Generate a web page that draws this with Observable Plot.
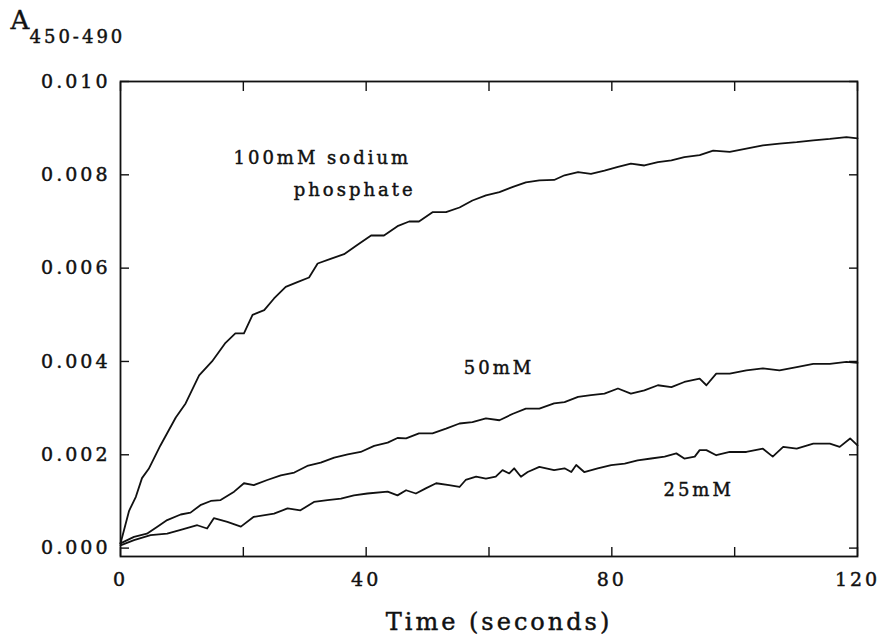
<!DOCTYPE html>
<html><head><meta charset="utf-8">
<script src="https://cdn.jsdelivr.net/npm/d3@7"></script>
<script src="https://cdn.jsdelivr.net/npm/@observablehq/plot@0.6"></script>
<style>
body{margin:0;background:#fff;}
#chart svg{display:block;}
#chart svg text{letter-spacing:3px;stroke:#111;stroke-width:0.45px;}
</style>
</head><body><div id="chart"></div>
<script>
// 100 mM sodium phosphate
const t100 = [0,1.4,2.5,3.5,4.6,6.5,9.0,10.6,12.8,14.9,17.1,18.7,20.1,21.5,23.4,25.0,26.9,28.8,30.7,32.1,34.2,36.4,38.6,40.8,42.9,45.1,47.0,48.6,50.8,53.0,55.2,57.3,59.5,61.7,63.9,66.0,68.2,70.6,72.3,74.5,76.6,78.8,81.0,83.1,85.3,87.5,89.7,91.8,94.3,96.5,99.2,101.9,104.6,107.3,110.1,112.8,115.5,118.2,120];
const a100 = [0.0001,0.0008,0.0011,0.0015,0.0017,0.0022,0.0028,0.0031,0.0037,0.0040,0.0044,0.0046,0.0046,0.0050,0.0051,0.00535,0.0056,0.0057,0.0058,0.0061,0.0062,0.0063,0.0065,0.0067,0.0067,0.0069,0.0070,0.0070,0.0072,0.0072,0.0073,0.00745,0.00756,0.00763,0.00774,0.00784,0.00788,0.00789,0.00799,0.00806,0.00802,0.00809,0.00817,0.00824,0.0082,0.00827,0.00831,0.00838,0.00842,0.00852,0.00849,0.00856,0.00863,0.00867,0.0087,0.00874,0.00877,0.00881,0.00878];
// 50 mM
const t50 = [0,2.2,4.3,6.0,7.6,9.8,11.4,13.0,14.7,16.3,18.5,20.1,21.7,23.9,26.1,28.3,30.4,32.6,34.8,37.0,39.1,41.3,43.5,45.1,46.5,48.6,50.8,53.0,55.2,57.3,59.5,61.7,63.9,66.0,68.2,70.6,72.3,74.5,76.6,78.8,81.0,83.1,85.3,87.5,89.7,91.8,94.3,95.4,97.0,99.2,101.9,104.6,107.3,110.1,112.8,115.5,118.2,120];
const a50 = [0.0001,0.00024,0.00031,0.00046,0.0006,0.00072,0.00076,0.00092,0.00101,0.00103,0.00121,0.00139,0.00135,0.00146,0.00156,0.00162,0.00176,0.00183,0.00194,0.00201,0.00206,0.00219,0.00226,0.00236,0.00235,0.00246,0.00246,0.00256,0.00267,0.0027,0.00278,0.00274,0.00288,0.00299,0.00299,0.0031,0.00313,0.00324,0.00328,0.00331,0.00342,0.00331,0.00338,0.00349,0.00345,0.00356,0.00363,0.00349,0.00374,0.00374,0.00381,0.00385,0.00381,0.00388,0.00395,0.00395,0.00399,0.00397];
// 25 mM
const t25 = [0,2.2,4.9,7.6,9.8,12.5,14.1,15.2,17.4,19.6,21.7,25.0,27.2,29.3,31.5,33.7,35.9,38.0,40.2,43.5,45.1,46.5,48.1,49.7,51.4,53.5,55.2,56.2,57.9,59.5,61.1,62.2,63.3,64.1,65.2,66.3,68.2,70.6,72.3,73.4,74.2,75.5,77.7,79.9,82.1,84.2,86.4,88.6,90.5,91.8,93.5,94.3,95.4,97.0,99.2,101.9,104.6,106.2,107.9,110.1,112.8,115.5,117.1,118.8,120];
const a25 = [0.00006,0.00017,0.00028,0.00031,0.00039,0.00049,0.00042,0.00064,0.00056,0.00046,0.00067,0.00074,0.00085,0.00081,0.00099,0.00103,0.00106,0.00113,0.00117,0.00121,0.00113,0.00124,0.00117,0.00128,0.00139,0.00135,0.00131,0.00146,0.00153,0.00149,0.00153,0.00167,0.0016,0.00171,0.00153,0.00163,0.00174,0.00167,0.00171,0.00163,0.00178,0.00163,0.00171,0.00178,0.00181,0.00188,0.00192,0.00196,0.00203,0.00192,0.00196,0.0021,0.0021,0.00199,0.00206,0.00206,0.00213,0.00196,0.00217,0.00213,0.00224,0.00224,0.00217,0.00235,0.0022];

const seriesNames = ["100mM", "50mM", "25mM"];
const xTicks = [0, 20, 40, 60, 80, 100, 120];
const xTickLabels = [0, 40, 80, 120];
const yTicks = [0, 0.002, 0.004, 0.006, 0.008, 0.010];
const labelTexts = ["100mM sodium", "phosphate", "50mM", "25mM"];
const labelT = [18.4, 28.2, 55.9, 88.4];
const labelA = [0.00835, 0.00767, 0.00385, 0.00124];
const xTitle = "Time (seconds)";
const yTitleMain = "A";
const yTitleSub = "450-490";

const series = [[t100, a100], [t50, a50], [t25, a25]];
const data = series.flatMap(([ts, as], i) => ts.map((t, j) => ({s: seriesNames[i], t, a: as[j]})));
const labels = labelTexts.map((text, i) => ({text, t: labelT[i], a: labelA[i]}));

const ink = "#111";
const plot = Plot.plot({
  width: 879, height: 644,
  marginLeft: 120, marginRight: 22, marginTop: 81, marginBottom: 88,
  style: {fontFamily: "'DejaVu Serif', serif", fontSize: "19px", color: ink, background: "#fff"},
  x: {domain: [0, 120]},
  y: {domain: [-0.00018, 0.010]},
  marks: [
    Plot.axisX(xTicks, {anchor: "bottom", tickSize: -9, tickPadding: 25, tickFormat: d => xTickLabels.includes(d) ? String(d) : "", label: null, strokeWidth: 1.4}),
    Plot.axisX(xTicks, {anchor: "top", tickSize: -9, tickFormat: () => "", label: null, strokeWidth: 1.4}),
    Plot.axisY(yTicks, {anchor: "left", tickSize: -9, tickPadding: 19, tickFormat: d3.format(".3f"), label: null, strokeWidth: 1.4}),
    Plot.axisY(yTicks, {anchor: "right", tickSize: -9, tickFormat: () => "", label: null, strokeWidth: 1.4}),
    Plot.frame({stroke: ink, strokeWidth: 1.8}),
    Plot.line(data, {x: "t", y: "a", z: "s", stroke: ink, strokeWidth: 1.8}),
    Plot.text(labels, {x: "t", y: "a", text: "text", textAnchor: "start", fontSize: 18, fill: ink}),
    Plot.text([xTitle], {frameAnchor: "bottom", dx: 10, dy: 66, lineAnchor: "middle", fontSize: 24, fill: ink}),
    Plot.text([yTitleMain], {frameAnchor: "top-left", dx: -110, dy: -61, textAnchor: "start", lineAnchor: "middle", fontSize: 26, fill: ink}),
    Plot.text([yTitleSub], {frameAnchor: "top-left", dx: -91, dy: -44, textAnchor: "start", lineAnchor: "middle", fontSize: 18, fill: ink})
  ]
});
document.getElementById("chart").append(plot);
</script>
</body></html>
